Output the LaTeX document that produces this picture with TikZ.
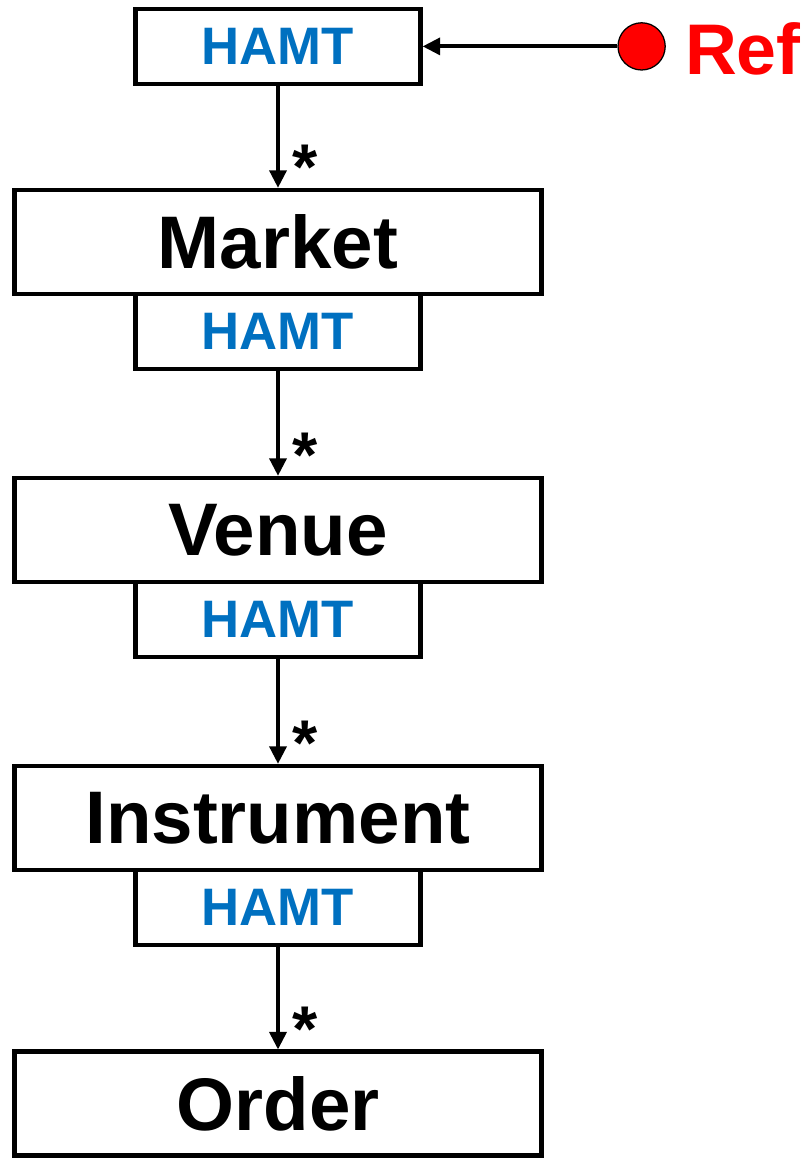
\documentclass[tikz,border=0pt]{standalone}
\usepackage{fontspec}
\setmainfont{Liberation Sans}
\usepackage{xcolor}
\usepackage{tikz}
\usetikzlibrary{arrows.meta, positioning}
\definecolor{hblue}{HTML}{0070C0}
\definecolor{rred}{HTML}{FF0000}

\begin{document}
\begin{tikzpicture}[x=1cm, y=1cm,
  entity/.style={draw=black, line width=3pt, fill=white, inner sep=0pt,
    minimum width=13.175cm, minimum height=2.6cm,
    font=\fontsize{53}{58}\selectfont\bfseries},
  hamt/.style={draw=black, line width=3pt, fill=white, inner sep=0pt,
    minimum width=7.125cm, minimum height=1.875cm,
    font=\fontsize{37.5}{42}\selectfont\bfseries, text=hblue},
  arr/.style={-{Triangle[length=12.5pt, width=12pt]}, line width=2.8pt},
  many/.style={pos=0.8, right=9pt, inner sep=0pt,
    font=\fontsize{46}{50}\selectfont\bfseries}]
\useasboundingbox (0,0) rectangle (20.25,28.95);
% root map and the reference holding it
\node[hamt] (h0) at (6.95,27.79) {HAMT};
\node[circle, draw=black, line width=0.9pt, fill=rred, minimum size=1.18cm,
  inner sep=0pt] (ref) at (16.04,27.79) {};
\node[anchor=base west, inner sep=0pt, text=rred,
  font=\fontsize{51}{56}\selectfont\bfseries] (reflabel) at (17.12,27.075) {Ref};
\draw[arr] (ref) -- (h0);
% entity chain
\node[entity] (market) at (6.95,22.9) {Market};
\node[hamt] (h1) at (6.95,20.66) {HAMT};
\node[entity] (venue) at (6.95,15.7) {Venue};
\node[hamt] (h2) at (6.95,13.46) {HAMT};
\node[entity] (instrument) at (6.95,8.5) {Instrument};
\node[hamt] (h3) at (6.95,6.26) {HAMT};
\node[entity] (order) at (6.95,1.36) {Order};
\draw[arr] (h0) -- node[many] {*} (market);
\draw[arr] (h1) -- node[many] {*} (venue);
\draw[arr] (h2) -- node[many] {*} (instrument);
\draw[arr] (h3) -- node[many] {*} (order);
\end{tikzpicture}
\end{document}
